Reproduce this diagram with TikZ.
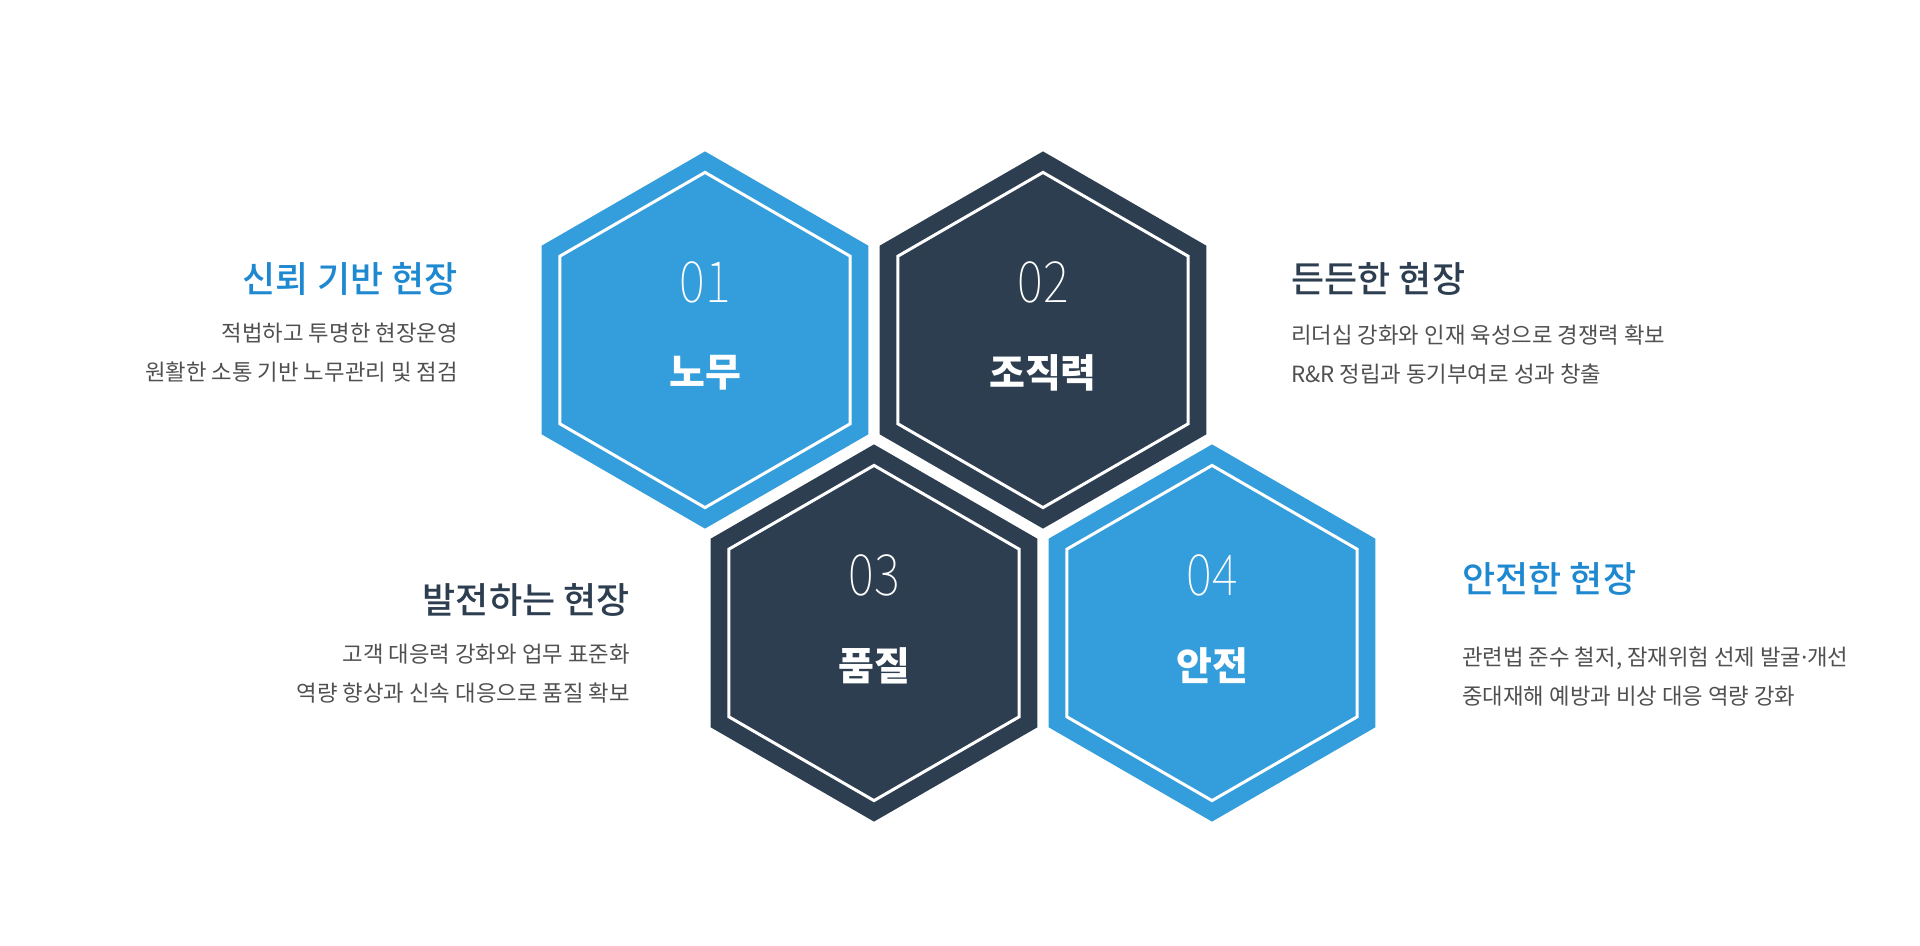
\documentclass[tikz,border=0pt]{standalone}
\usepackage{fontspec}
\setmainfont{Noto Sans CJK KR}
\newfontfamily\thinnum[FakeStretch=0.86]{Noto Sans CJK KR Thin}
\newfontfamily\midfont{Noto Sans CJK KR Medium}
\newfontfamily\dotfont{Noto Sans}
\definecolor{hblue}{RGB}{52,157,219}
\definecolor{hnavy}{RGB}{45,62,80}
\definecolor{tblue}{RGB}{30,136,208}
\definecolor{tgray}{RGB}{80,80,80}
\tikzset{honey/.style={x=0.5pt,y=-0.5pt},
  hexline/.style={white,line width=1.5pt,line join=miter},
  hexnum/.style={text=white,inner sep=0pt,font=\thinnum\fontsize{28.5}{28.5}\selectfont},
  hexlab/.style={text=white,inner sep=0pt,font=\bfseries\fontsize{19.5}{19.5}\selectfont},
  sidetitle/.style={inner sep=0pt,font=\midfont\fontsize{18}{18}\selectfont},
  sidetext/.style={text=tgray,inner sep=0pt,font=\fontsize{11.15}{19.5}\selectfont}}

\begin{document}
\begin{tikzpicture}[honey]
    \def\R{188.6}% outer radius, px
    \def\r{167.6}% white outline
    \useasboundingbox (0,0) rectangle (1920,946);
    % honeycomb cells
    \foreach \c/\x/\y/\col/\num/\lab in {h1/705/340/hblue/01/노무,h2/1043/340/hnavy/02/조직력,
        h3/874/633/hnavy/03/품질,h4/1212/633/hblue/04/안전}{
      \begin{scope}[shift={(\x,\y)}]
        \coordinate (\c) at (0,0);
        \fill[\col] (90:\R) -- (150:\R) -- (210:\R) -- (270:\R) -- (330:\R) -- (30:\R) -- cycle;
        \draw[hexline] (90:\r) -- (150:\r) -- (210:\r) -- (270:\r) -- (330:\r) -- (30:\r) -- cycle;
        \node[hexnum] (\c num) at (0,-58) {\num};
        \node[hexlab] (\c lab) at (0,33) {\lab};
      \end{scope}
    }
    % side texts
    \node[sidetitle,tblue,anchor=east] (t1) at (458,279) {신뢰 기반 현장};
    \node[sidetext,align=right,anchor=east] (d1) at (458,353) {적법하고 투명한 현장운영\\원활한 소통 기반 노무관리 및 점검};
    \node[sidetitle,hnavy,anchor=west] (t2) at (1291,279) {든든한 현장};
    \node[sidetext,align=left,anchor=west] (d2) at (1291,355) {리더십 강화와 인재 육성으로 경쟁력 확보\\R\&R 정립과 동기부여로 성과 창출};
    \node[sidetitle,hnavy,anchor=east] (t3) at (630,600) {발전하는 현장};
    \node[sidetext,align=right,anchor=east] (d3) at (630,674) {고객 대응력 강화와 업무 표준화\\역량 향상과 신속 대응으로 품질 확보};
    \node[sidetitle,tblue,anchor=west] (t4) at (1462,579) {안전한 현장};
    \node[sidetext,align=left,anchor=west] (d4) at (1462,677) {관련법 준수 철저, 잠재위험 선제 발굴{\dotfont·}개선\\중대재해 예방과 비상 대응 역량 강화};
\end{tikzpicture}
\end{document}
